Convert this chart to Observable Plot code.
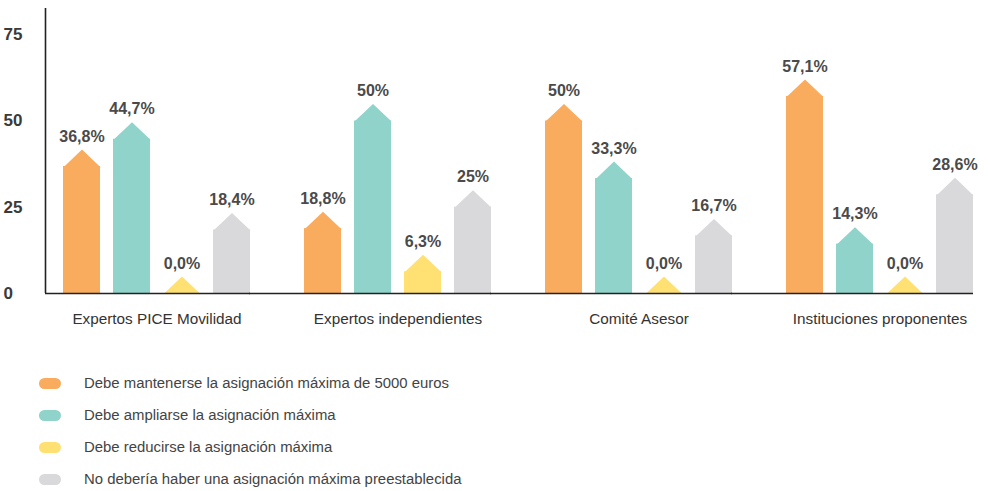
<!DOCTYPE html>
<html><head><meta charset="utf-8">
<script src="https://cdn.jsdelivr.net/npm/d3@7"></script>
<script src="https://cdn.jsdelivr.net/npm/@observablehq/plot@0.6"></script>
<style>
body{margin:0;background:#fff;font-family:"Liberation Sans",Arial,sans-serif;}
#chart svg{display:block;}
#legend{padding-top:27px;}
.row{display:flex;align-items:center;height:32px;}
.sw{width:22px;height:11px;border-radius:6px;margin-left:39px;margin-right:23px;}
.lt{font-size:14.9px;color:#444;}
</style></head><body><div id="chart"></div><div id="legend"></div>
<script>
const groups = ["Expertos PICE Movilidad","Expertos independientes","Comité Asesor","Instituciones proponentes"];
const series = ["Debe mantenerse la asignación máxima de 5000 euros","Debe ampliarse la asignación máxima","Debe reducirse la asignación máxima","No debería haber una asignación máxima preestablecida"];
const colors = ["#F9AC5D","#8FD3CA","#FFE173","#D9D9DB"];
const mantener = [36.8, 18.8, 50, 57.1];
const ampliar = [44.7, 50, 33.3, 14.3];
const reducir = [0, 6.3, 0, 0];
const sinMaximo = [18.4, 25, 16.7, 28.6];
const mantenerLbl = ["36,8%","18,8%","50%","57,1%"];
const ampliarLbl = ["44,7%","50%","33,3%","14,3%"];
const reducirLbl = ["0,0%","6,3%","0,0%","0,0%"];
const sinMaximoLbl = ["18,4%","25%","16,7%","28,6%"];
const yTicks = [0, 25, 50, 75];
const yTop = 82.6;

const valuesBySeries = [mantener, ampliar, reducir, sinMaximo];
const labelsBySeries = [mantenerLbl, ampliarLbl, reducirLbl, sinMaximoLbl];
const rows = [];
groups.forEach((g, i) => series.forEach((s, j) => rows.push({group: g, series: s, value: valuesBySeries[j][i], label: labelsBySeries[j][i]})));

function build(roofW) {
  const roof = {draw(ctx) { ctx.moveTo(-roofW / 2, 0.6); ctx.lineTo(0, -17); ctx.lineTo(roofW / 2, 0.6); ctx.closePath(); }};
  return Plot.plot({
    width: 990, height: 340, marginTop: 8, marginBottom: 47, marginLeft: 62, marginRight: 15,
    style: {fontFamily: '"Liberation Sans", Arial, sans-serif', background: "#fff", overflow: "visible"},
    fx: {domain: groups, paddingInner: 0.222, paddingOuter: 0, label: null},
    x: {domain: series, paddingInner: 0.264, paddingOuter: 0, axis: null},
    y: {domain: [0, yTop], axis: null},
    color: {domain: series, range: colors},
    marks: [
      Plot.barY(rows, {fx: "group", x: "series", y: "value", fill: "series"}),
      Plot.dot(rows, {fx: "group", x: "series", y: "value", fill: "series", symbol: roof, r: 5}),
      Plot.text(rows, {fx: "group", x: "series", y: "value", text: "label", dy: -30, fontSize: 16, fontWeight: "bold", fill: "#4a4a4a"}),
      Plot.ruleY([{group: groups[0]}], {fx: "group", y: () => 0, insetLeft: -18, stroke: "#222", strokeWidth: 1.6}),
      Plot.ruleY(groups.slice(1).map(g => ({group: g})), {fx: "group", y: () => 0, insetLeft: -55, stroke: "#222", strokeWidth: 1.6}),
      Plot.ruleX([{group: groups[0]}], {fx: "group", x: () => series[0], y1: 0, y2: yTop, dx: -36.5, stroke: "#222", strokeWidth: 1.6}),
      Plot.axisY({ticks: yTicks, tickSize: 0, textAnchor: "start", dx: -51, fontSize: 17, fontWeight: "bold", fill: "#3a3a3a", label: null}),
      Plot.axisFx({anchor: "bottom", tickSize: 0, tickPadding: 20, fontSize: 15.3, fill: "#333", label: null})
    ]
  });
}
let chart = build(37);
try { const bw = chart.scale("x").bandwidth; if (bw) chart = build(bw); } catch (e) {}
document.getElementById("chart").append(chart);

const legend = document.getElementById("legend");
series.forEach((s, j) => {
  const r = document.createElement("div"); r.className = "row";
  const sw = document.createElement("div"); sw.className = "sw"; sw.style.background = colors[j];
  const t = document.createElement("span"); t.className = "lt"; t.textContent = s;
  r.append(sw, t); legend.append(r);
});
</script></body></html>
